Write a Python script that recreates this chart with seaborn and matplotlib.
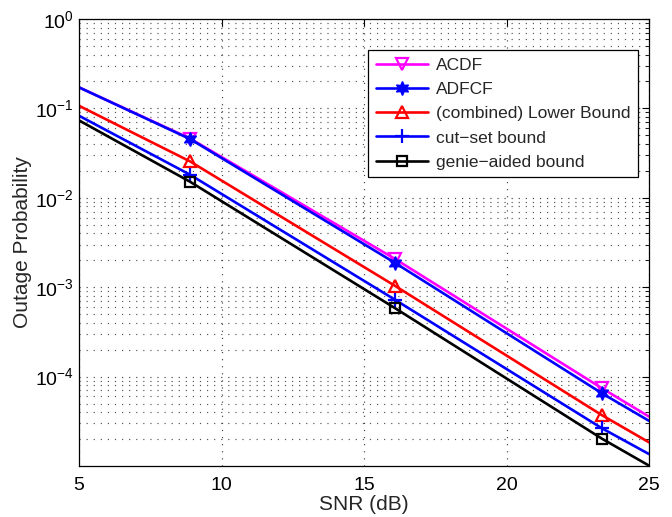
import matplotlib
matplotlib.use("Agg")
import matplotlib.pyplot as plt
import seaborn as sns
import numpy as np
import pandas as pd
from matplotlib.ticker import LogLocator, NullFormatter, FixedLocator

# ---- data ----
snr_db = [5, 8.9, 16.1, 23.35, 25]
acdf = [0.172, 0.0460, 2.06e-3, 7.4e-5, 3.57e-5]
adfcf = [0.172, 0.0454, 1.86e-3, 6.5e-5, 3.2e-5]
lower_bound = [0.107, 0.0255, 1.03e-3, 3.7e-5, 1.84e-5]
cutset = [0.0828, 0.0181, 7.2e-4, 2.64e-5, 1.36e-5]
genie = [0.0734, 0.0151, 5.8e-4, 2.02e-5, 1.01e-5]

series_names = ["ACDF", "ADFCF", "(combined) Lower Bound", "cut\u2212set bound", "genie\u2212aided bound"]
series_vals = [acdf, adfcf, lower_bound, cutset, genie]
x_ticks = [5, 10, 15, 20, 25]
y_ticks = [1e-4, 1e-3, 1e-2, 1e-1, 1e0]

sns.set_style("white")
plt.rcParams['font.family'] = ['Liberation Sans', 'DejaVu Sans']
plt.rcParams['mathtext.fontset'] = 'custom'
plt.rcParams['mathtext.rm'] = 'Liberation Sans'
plt.rcParams['mathtext.it'] = 'Liberation Sans'

fig = plt.figure(figsize=(6.72, 5.17), dpi=100)
ax = fig.add_axes([79/672, 1-466/517, (649-79)/672, (466-19)/517])

magenta, blue, red, black = (1, 0, 1), (0, 0, 1), (1, 0, 0), (0, 0, 0)
styles = [
    dict(color=magenta, marker='v', markersize=9, markerfacecolor='none', markeredgecolor=magenta, markeredgewidth=1.6),
    dict(color=blue, marker=(6, 1, 0), markersize=10, markerfacecolor=blue, markeredgecolor=blue, markeredgewidth=1.0),
    dict(color=red, marker='^', markersize=9, markerfacecolor='none', markeredgecolor=red, markeredgewidth=1.6),
    dict(color=blue, marker='+', markersize=10, markeredgecolor=blue, markeredgewidth=1.6),
    dict(color=black, marker='s', markersize=6.5, markerfacecolor='none', markeredgecolor=black, markeredgewidth=1.6),
]

for name, vals, st in zip(series_names, series_vals, styles):
    df = pd.DataFrame({"snr": snr_db, "p": vals})
    sns.lineplot(data=df, x="snr", y="p", ax=ax, linewidth=1.9, markevery=[1, 2, 3],
                 label=name, **st)

ax.set_yscale('log')
ax.set_xlim(5, 25)
ax.set_ylim(1e-5, 1)
ax.xaxis.set_major_locator(FixedLocator(x_ticks))
ax.yaxis.set_major_locator(FixedLocator(y_ticks))
ax.yaxis.set_minor_locator(LogLocator(base=10, subs=np.arange(2, 10)))
ax.yaxis.set_minor_formatter(NullFormatter())

ax.grid(True, which='major', axis='both', linestyle=(0, (1, 5)), linewidth=0.85, color='#444444')
ax.grid(True, which='minor', axis='y', linestyle=(0, (1, 5)), linewidth=0.85, color='#555555')

ax.tick_params(which='both', direction='in', top=True, right=True, labelsize=14, colors='black')
ax.tick_params(which='major', length=5, width=0.8)
ax.tick_params(which='minor', length=3, width=0.6)
ax.tick_params(axis='x', pad=8)
for s in ax.spines.values():
    s.set_color('black')
    s.set_linewidth(0.9)

ax.set_xlabel("SNR (dB)", fontsize=15, labelpad=1)
ax.set_ylabel("Outage Probability", fontsize=15, labelpad=2)

leg = ax.legend(loc='upper right', bbox_to_anchor=(638/672, 1-50/517), bbox_transform=fig.transFigure,
                fontsize=12.5, frameon=True, fancybox=False, edgecolor='black', framealpha=1,
                handlelength=3.0, handletextpad=0.45, labelspacing=0.52, borderpad=0.45, borderaxespad=0)
leg.get_frame().set_linewidth(0.9)

fig.savefig("out.png", dpi=100)
